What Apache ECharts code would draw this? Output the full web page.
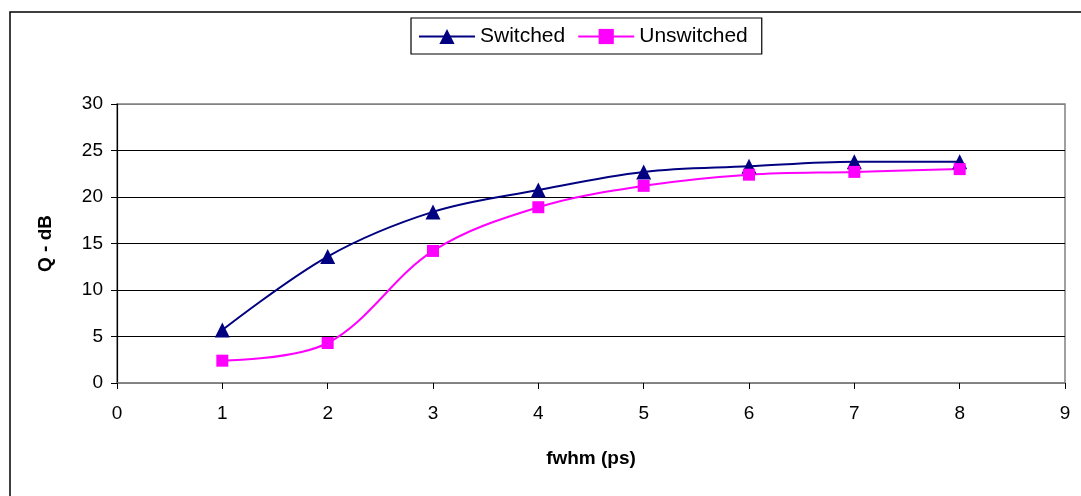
<!DOCTYPE html>
<html>
<head>
<meta charset="utf-8">
<script src="https://cdn.jsdelivr.net/npm/echarts@6/dist/echarts.min.js"></script>
<style>
html,body{margin:0;padding:0;background:#fff;}
#c{width:1081px;height:496px;}
</style>
</head>
<body>
<div id="c"></div>
<script>
var xValues = [1, 2, 3, 4, 5, 6, 7, 8];
var switched = [5.7, 13.6, 18.4, 20.75, 22.7, 23.3, 23.8, 23.8];
var unswitched = [2.4, 4.3, 14.2, 18.9, 21.2, 22.4, 22.7, 23.0];
var xTicks = [0, 1, 2, 3, 4, 5, 6, 7, 8, 9];
var yTicks = [0, 5, 10, 15, 20, 25, 30];

function pairs(xs, ys) { return xs.map(function (x, i) { return [x, ys[i]]; }); }

var chart = echarts.init(document.getElementById('c'), null, { renderer: 'canvas' });
var font = 'Liberation Sans, Arial, sans-serif';
chart.setOption({
  animation: false,
  backgroundColor: '#fff',
  graphic: [{
    type: 'rect', z: -10, silent: true,
    shape: { x: 10, y: 12, width: 1200, height: 700 },
    style: { fill: 'none', stroke: '#000', lineWidth: 1.5 }
  }],
  legend: {
    top: 18, left: 411,
    padding: [8, 14, 7, 7],
    borderColor: '#000', borderWidth: 1.2,
    itemWidth: 56, itemHeight: 19, itemGap: 12,
    textStyle: { fontFamily: font, fontSize: 21, color: '#000' },
    data: ['Switched', 'Unswitched']
  },
  grid: { left: 117, right: 16, top: 104, bottom: 113, show: true, borderColor: '#808080', borderWidth: 1.5, containLabel: false },
  xAxis: {
    type: 'value', min: 0, max: 9, interval: 1,
    name: 'fwhm (ps)', nameLocation: 'middle', nameGap: 66,
    nameTextStyle: { fontFamily: font, fontSize: 19, fontWeight: 'bold', color: '#000' },
    axisLine: { show: true, lineStyle: { color: '#808080', width: 1.5 } },
    axisTick: { show: true, length: 6, lineStyle: { color: '#000' } },
    axisLabel: { fontFamily: font, fontSize: 19, color: '#000', margin: 21,
      formatter: function (v) { return xTicks.indexOf(v) >= 0 ? String(v) : ''; } },
    splitLine: { show: false }
  },
  yAxis: {
    type: 'value', min: 0, max: 30, interval: 5,
    name: 'Q - dB', nameLocation: 'middle', nameGap: 62,
    nameTextStyle: { fontFamily: font, fontSize: 19, fontWeight: 'bold', color: '#000' },
    axisLine: { show: true, lineStyle: { color: '#000', width: 1.2 } },
    axisTick: { show: true, length: 6, lineStyle: { color: '#000' } },
    axisLabel: { fontFamily: font, fontSize: 19, color: '#000', margin: 14,
      formatter: function (v) { return yTicks.indexOf(v) >= 0 ? String(v) : ''; } },
    splitLine: { show: true, lineStyle: { color: ['#808080', '#000', '#000', '#000', '#000', '#000', '#808080'], width: 1 } }
  },
  series: [{
    name: 'Switched', type: 'line', smooth: 0.35,
    data: pairs(xValues, switched),
    symbol: 'triangle', symbolSize: 15,
    itemStyle: { color: '#000080' },
    lineStyle: { color: '#000080', width: 2 }
  }, {
    name: 'Unswitched', type: 'line', smooth: 0.35,
    data: pairs(xValues, unswitched),
    symbol: 'rect', symbolSize: 12,
    itemStyle: { color: '#FF00FF' },
    lineStyle: { color: '#FF00FF', width: 2 }
  }]
});
</script>
</body>
</html>
